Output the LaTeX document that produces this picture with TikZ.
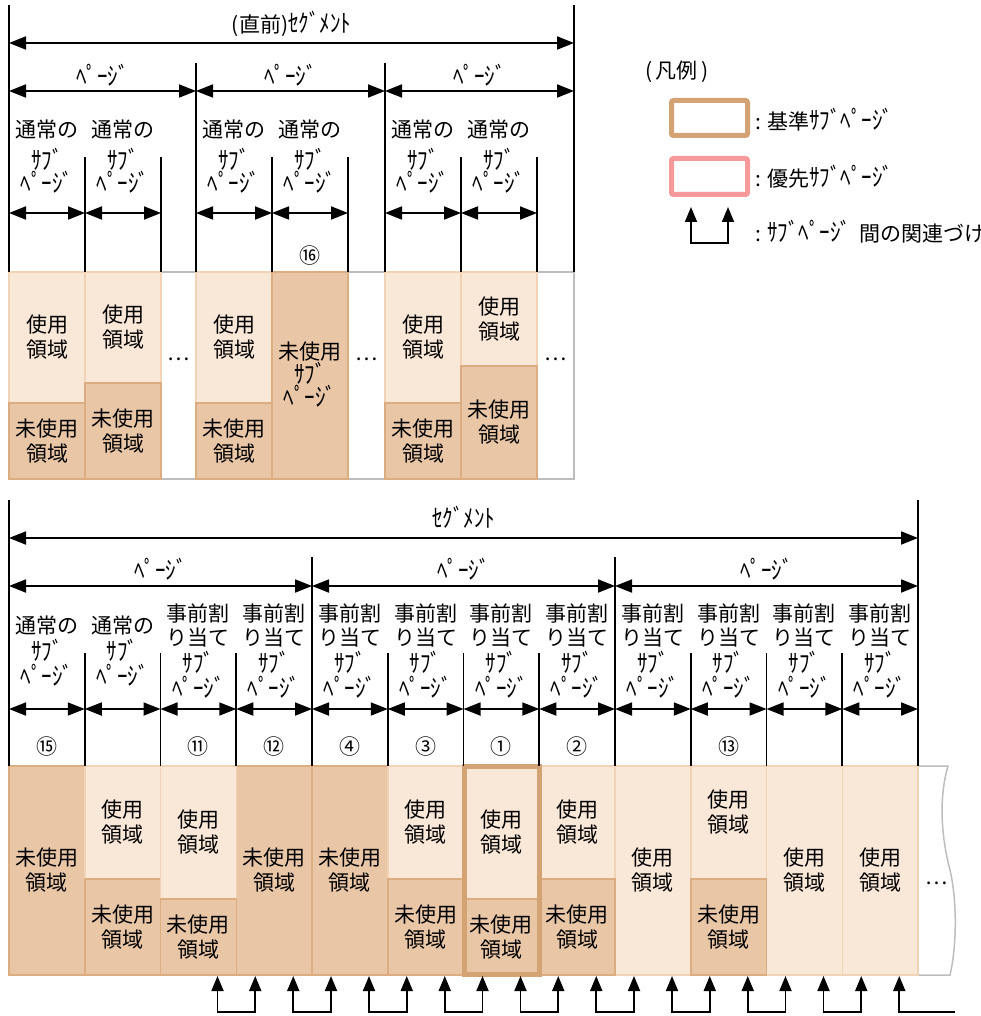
\documentclass[tikz,border=0pt]{standalone}
\usepackage{fontspec}
\setmainfont{Noto Sans CJK JP}
\newfontfamily\hwfont[FakeStretch=0.84]{Noto Sans CJK JP}
\newcommand{\hwkana}[1]{{\hwfont\fontsize{25}{25}\selectfont #1}}
\usetikzlibrary{arrows.meta}
\definecolor{lightfill}{HTML}{F9E7D7}
\definecolor{darkfill}{HTML}{E8C6A6}
\definecolor{lightedge}{HTML}{F1D3B5}
\definecolor{darkedge}{HTML}{DDAD82}
\definecolor{baseedge}{HTML}{D4A373}
\definecolor{prioedge}{HTML}{F5999B}
\definecolor{grayedge}{HTML}{BDBDBD}
\tikzset{
  ln/.style={line width=1.8pt, black},
  dimarrow/.style={line width=1.8pt, {Triangle[length=17pt,width=13pt]}-{Triangle[length=17pt,width=13pt]}},
  relarrow/.style={line width=1.8pt, line join=miter, {Triangle[length=15pt,width=12pt]}-{Triangle[length=15pt,width=12pt]}},
  relone/.style={line width=1.8pt, line join=miter, -{Triangle[length=15pt,width=12pt]}},
  lbl/.style={align=center, inner sep=0pt, font=\fontsize{21}{25}\selectfont},
  kanalbl/.style={align=center, inner sep=0pt, font=\hwfont\fontsize{25}{20}\selectfont},
  usedbox/.style={fill=lightfill, draw=lightedge, line width=1.5pt},
  freebox/.style={fill=darkfill, draw=darkedge, line width=1.5pt},
  grayline/.style={draw=grayedge, line width=1.5pt},
}
\begin{document}
\begin{tikzpicture}[x=1pt,y=-1pt]
\useasboundingbox (0,0) rectangle (980,1016);

%%%%%%%%%%%%%%%% TOP SECTION %%%%%%%%%%%%%%%%
\draw[grayline] (9,272) rectangle (574,479);
\draw[usedbox] (9,272) rectangle (85,403);
\draw[usedbox] (85,272) rectangle (161,383);
\draw[usedbox] (196,272) rectangle (272,403);
\draw[usedbox] (385,272) rectangle (461,403);
\draw[usedbox] (461,272) rectangle (537,366);
\draw[freebox] (9,403) rectangle (85,479);
\draw[freebox] (85,383) rectangle (161,479);
\draw[freebox] (196,403) rectangle (272,479);
\draw[freebox] (272,272) rectangle (348,479);
\draw[freebox] (385,403) rectangle (461,479);
\draw[freebox] (461,366) rectangle (537,479);

\node[lbl] (tu1) at (47,337.5) {使用\\領域};
\node[lbl] (tu2) at (123,327.5) {使用\\領域};
\node[lbl] (tu3) at (234,337.5) {使用\\領域};
\node[lbl] (tu5) at (423,337.5) {使用\\領域};
\node[lbl] (tu6) at (499,319) {使用\\領域};
\node[lbl] (tf1) at (47,441) {未使用\\領域};
\node[lbl] (tf2) at (123,431) {未使用\\領域};
\node[lbl] (tf3) at (234,441) {未使用\\領域};
\node[lbl] (tf4a) at (310,352) {未使用};
\node[kanalbl, font=\hwfont\fontsize{25}{23}\selectfont] (tf4b) at (310,384.5) {ｻﾌﾞ\\ﾍﾟｰｼﾞ};
\node[lbl] (tf5) at (423,441) {未使用\\領域};
\node[lbl] (tf6) at (499,422.5) {未使用\\領域};
\node[lbl] (tdots1) at (178.5,359) {…};
\node[lbl] (tdots2) at (366.5,359) {…};
\node[lbl] (tdots3) at (555.5,359) {…};

% segment
\coordinate (tsegLt) at (9,5);   \coordinate (tsegLb) at (9,272);
\coordinate (tsegRt) at (574,5); \coordinate (tsegRb) at (574,272);
\draw[ln] (tsegLt) -- (tsegLb);
\draw[ln] (tsegRt) -- (tsegRb);
\coordinate (tsegAL) at (9,43); \coordinate (tsegAR) at (574,43);
\draw[dimarrow] (tsegAL) -- (tsegAR);
\node[lbl] (tsegT) at (291.5,24) {(直前)\hwkana{ｾｸﾞﾒﾝﾄ}};

% pages
\foreach \x [count=\i] in {196,385}{
  \coordinate (tpl\i t) at (\x,63); \coordinate (tpl\i b) at (\x,272);
  \draw[ln] (tpl\i t) -- (tpl\i b);
}
\foreach \a/\b [count=\i] in {9/196,196/385,385/574}{
  \coordinate (tpa\i L) at (\a,91); \coordinate (tpa\i R) at (\b,91);
  \draw[dimarrow] (tpa\i L) -- (tpa\i R);
  \node[lbl] (tpT\i) at ({(\a+\b)/2},75) {\hwkana{ﾍﾟｰｼﾞ}};
}
% subpages
\foreach \x [count=\i] in {85,161,272,348,461,537}{
  \coordinate (tsl\i t) at (\x,157); \coordinate (tsl\i b) at (\x,272);
  \draw[ln] (tsl\i t) -- (tsl\i b);
}
\foreach \a/\b [count=\i] in {9/85,85/161,196/272,272/348,385/461,461/537}{
  \coordinate (tsa\i L) at (\a,213); \coordinate (tsa\i R) at (\b,213);
  \draw[dimarrow] (tsa\i L) -- (tsa\i R);
  \node[lbl] (tsA\i) at ({(\a+\b)/2},130) {通常の};
  \node[kanalbl] (tsB\i) at ({(\a+\b)/2},171) {ｻﾌﾞ\\ﾍﾟｰｼﾞ};
}
\node[lbl] (tn16) at (310,256) {⑯};

%%%%%%%%%%%%%%%% LEGEND %%%%%%%%%%%%%%%%
\node[lbl, anchor=west] (lgT) at (645,72) {(\,凡例\,)};
\draw[draw=baseedge, line width=5pt, rounded corners=2pt, fill=white] (671.5,100.5) rectangle (747.5,135.5);
\node[lbl, anchor=west] (lg1) at (755,120) {: 基準\hwkana{ｻﾌﾞﾍﾟｰｼﾞ}};
\draw[draw=prioedge, line width=5pt, rounded corners=2pt, fill=white] (671.5,158.5) rectangle (747.5,194.5);
\node[lbl, anchor=west] (lg2) at (755,177) {: 優先\hwkana{ｻﾌﾞﾍﾟｰｼﾞ}};
\coordinate (lga1t) at (691,207); \coordinate (lga1b) at (691,243);
\coordinate (lga2t) at (728,207); \coordinate (lga2b) at (728,243);
\draw[relarrow] (lga1t) -- (lga1b) -- (lga2b) -- (lga2t);
\node[lbl, anchor=west] (lg3) at (755,232) {: \hwkana{ｻﾌﾞﾍﾟｰｼﾞ}\hspace{8pt}間の関連づけ};

%%%%%%%%%%%%%%%% BOTTOM SECTION %%%%%%%%%%%%%%%%
\draw[grayline] (918,766) -- (948,766) .. controls (938,800) and (942,840) .. (950,870)
   .. controls (958,905) and (956,950) .. (950,975) -- (918,975);
\node[lbl] (bdots) at (937,883) {…};

\foreach \i/\a/\b in {1/9/84.75, 4/236.25/312, 5/312/387.75}{
  \draw[freebox] (\a,766) rectangle (\b,975);
  \node[lbl] (bf\i) at ({(\a+\b)/2},870.5) {未使用\\領域};
}
\foreach \i/\a/\b in {9/615/690.75, 11/766.5/842.25, 12/842.25/918}{
  \draw[usedbox] (\a,766) rectangle (\b,975);
  \node[lbl] (bu\i) at ({(\a+\b)/2},870.5) {使用\\領域};
}
\foreach \i/\a/\b/\s/\t in {2/84.75/160.5/879/822.5, 3/160.5/236.25/899/832.5, 6/387.75/463.5/879/822.5,
                           7/463.5/539.25/899/832.5, 8/539.25/615/879/822.5, 10/690.75/766.5/879/812}{
  \draw[usedbox] (\a,766) rectangle (\b,\s);
  \draw[freebox] (\a,\s) rectangle (\b,975);
  \node[lbl] (bu\i) at ({(\a+\b)/2},\t) {使用\\領域};
  \node[lbl] (bf\i) at ({(\a+\b)/2},{(\s+975)/2}) {未使用\\領域};
}
\draw[draw=baseedge, line width=5pt] (464,766) rectangle (539,974.5);

% segment
\coordinate (bsegLt) at (9,500);   \coordinate (bsegLb) at (9,766);
\coordinate (bsegRt) at (918,500); \coordinate (bsegRb) at (918,766);
\draw[ln] (bsegLt) -- (bsegLb);
\draw[ln] (bsegRt) -- (bsegRb);
\coordinate (bsegAL) at (9,538); \coordinate (bsegAR) at (918,538);
\draw[dimarrow] (bsegAL) -- (bsegAR);
\node[lbl] (bsegT) at (463.5,517) {\hwkana{ｾｸﾞﾒﾝﾄ}};

% pages
\foreach \x [count=\i] in {312,615}{
  \coordinate (bpl\i t) at (\x,557); \coordinate (bpl\i b) at (\x,766);
  \draw[ln] (bpl\i t) -- (bpl\i b);
}
\foreach \a/\b [count=\i] in {9/312,312/615,615/918}{
  \coordinate (bpa\i L) at (\a,586); \coordinate (bpa\i R) at (\b,586);
  \draw[dimarrow] (bpa\i L) -- (bpa\i R);
  \node[lbl] (bpT\i) at ({(\a+\b)/2},569) {\hwkana{ﾍﾟｰｼﾞ}};
}
% subpage lines
\foreach \x [count=\i] in {84.75,160.5,236.25,387.75,463.5,539.25,690.75,766.5,842.25}{
  \coordinate (bsl\i t) at (\x,653); \coordinate (bsl\i b) at (\x,766);
  \draw[ln] (bsl\i t) -- (bsl\i b);
}
% subpage arrows and labels
\foreach \n in {1,...,12}{
  \pgfmathsetmacro{\a}{9+(\n-1)*75.75}
  \pgfmathsetmacro{\b}{9+\n*75.75}
  \pgfmathsetmacro{\c}{9+(\n-0.5)*75.75}
  \coordinate (bsa\n L) at (\a,709); \coordinate (bsa\n R) at (\b,709);
  \draw[dimarrow] (bsa\n L) -- (bsa\n R);
  \ifnum\n<3
    \node[lbl] (bsA\n) at (\c,626) {通常の};
    \node[kanalbl, font=\hwfont\fontsize{25}{25}\selectfont] (bsB\n) at (\c,662.5) {ｻﾌﾞ\\ﾍﾟｰｼﾞ};
  \else
    \node[lbl] (bsA\n) at (\c,613) {事前割};
    \node[lbl] (bsD\n) at (\c,638) {り当て};
    \node[kanalbl, font=\hwfont\fontsize{25}{25}\selectfont] (bsB\n) at (\c,674.5) {ｻﾌﾞ\\ﾍﾟｰｼﾞ};
  \fi
}
\foreach \n/\t in {1/⑮,3/⑪,4/⑫,5/④,6/③,7/①,8/②,10/⑬}{
  \node[lbl] (bnum\n) at ({9+(\n-0.5)*75.75},747) {\t};
}

% relations between subpages
\foreach \n in {3,...,11}{
  \pgfmathsetmacro{\p}{9+(\n-1)*75.75+57}
  \pgfmathsetmacro{\q}{9+\n*75.75+19}
  \coordinate (rel\n a) at (\p,976); \coordinate (rel\n b) at (\p,1012);
  \coordinate (rel\n c) at (\q,1012); \coordinate (rel\n d) at (\q,976);
  \draw[relarrow] (rel\n a) -- (rel\n b) -- (rel\n c) -- (rel\n d);
}
\coordinate (rel12e) at (955,1012);
\coordinate (rel12b) at (899.25,1012); \coordinate (rel12a) at (899.25,976);
\draw[relone] (rel12e) -- (rel12b) -- (rel12a);
\end{tikzpicture}
\end{document}
